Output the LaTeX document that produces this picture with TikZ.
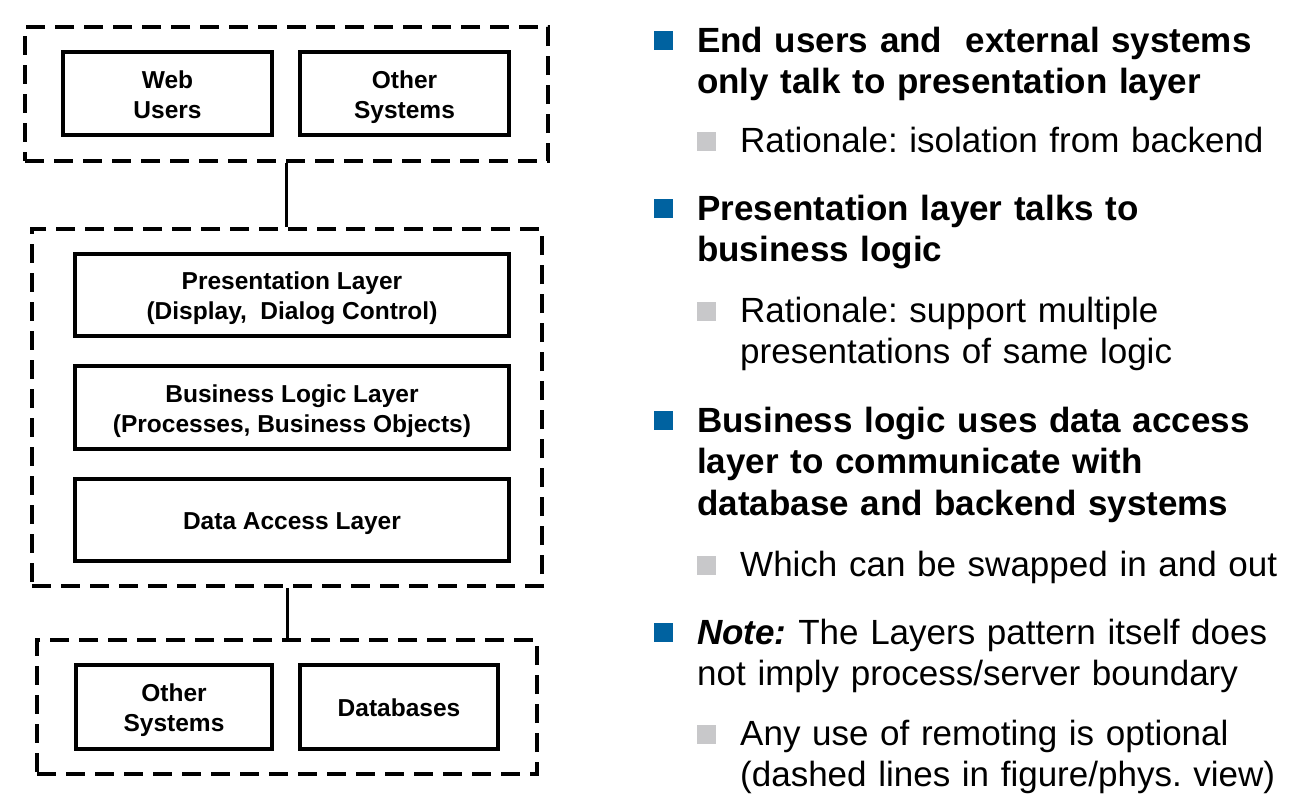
\documentclass[tikz,border=0pt]{standalone}
\usepackage{fontspec}
\setmainfont{Liberation Sans}
\frenchspacing
\usetikzlibrary{positioning}
\definecolor{bulletblue}{RGB}{0,98,160}
\definecolor{bulletgray}{RGB}{200,200,202}
\tikzset{
	group/.style={draw, line width=4pt, dash pattern=on 19pt off 10pt, inner sep=0pt},
	box/.style={draw, line width=4pt, inner sep=0pt, align=center, text height=18pt, text depth=0pt, font=\fontsize{24.5}{30}\selectfont\bfseries},
	twoline/.style={text height=49pt},
	link/.style={line width=3pt},
	head/.style={anchor=base west, inner sep=0pt, text width=640pt, align=left, font=\fontsize{35}{41.5}\selectfont\bfseries},
	sub/.style={anchor=base west, inner sep=0pt, text width=640pt, align=left, font=\fontsize{35}{41.5}\selectfont},
	bluesq/.style={fill=bulletblue, minimum size=19pt, inner sep=0pt},
	graysq/.style={fill=bulletgray, minimum size=19pt, inner sep=0pt},
}
\begin{document}
\begin{tikzpicture}[x=1pt, y=-1pt]
\useasboundingbox (0,0) rectangle (1292,798);
\node[group, minimum width=523pt, minimum height=134pt] (clients) at (286.5,94) {};
\node[box, twoline, minimum width=209pt, minimum height=83pt] (web) at (167.5,93.5) {Web\\Users};
\node[box, twoline, minimum width=209pt, minimum height=83pt] (othertop) at (404.5,93.5) {Other\\Systems};
\node[group, minimum width=510pt, minimum height=357pt] (app) at (287,407.5) {};
\node[box, twoline, minimum width=434pt, minimum height=82pt] (pres) at (292,295) {Presentation Layer\\(Display,~ Dialog Control)};
\node[box, twoline, minimum width=434pt, minimum height=83pt] (logic) at (292,407.5) {Business Logic Layer\\(Processes, Business Objects)};
\node[box, minimum width=434pt, minimum height=82pt] (dal) at (292,520) {Data Access Layer};
\node[group, minimum width=500pt, minimum height=134pt] (backend) at (287,707) {};
\node[box, twoline, minimum width=196pt, minimum height=84pt] (otherbot) at (174,707) {Other\\Systems};
\node[box, minimum width=198pt, minimum height=84pt] (db) at (399,707) {Databases};
\draw[link] (clients.south) -- (clients.south |- app.north);
\draw[link] (app.south) -- (app.south |- backend.north);

\node[head] (p1) at (697,52) {End users and~ external systems\\only talk to presentation layer};
\node[bluesq, left=24pt of p1.base west, anchor=south east, yshift=2pt] (m1) {};
\node[sub] (r1) at (740,152) {Rationale: isolation from backend};
\node[graysq, left=24pt of r1.base west, anchor=south east, yshift=1pt] (n1) {};
\node[head] (p2) at (697,220) {Presentation layer talks to\\business logic};
\node[bluesq, left=24pt of p2.base west, anchor=south east, yshift=2pt] (m2) {};
\node[sub] (r2) at (740,322) {Rationale: support multiple\\presentations of same logic};
\node[graysq, left=24pt of r2.base west, anchor=south east, yshift=1pt] (n2) {};
\node[head] (p3) at (697,432) {Business logic uses data access\\layer to communicate with\\database and backend systems};
\node[bluesq, left=24pt of p3.base west, anchor=south east, yshift=2pt] (m3) {};
\node[sub] (r3) at (740,576) {Which can be swapped in and out};
\node[graysq, left=24pt of r3.base west, anchor=south east, yshift=1pt] (n3) {};
\node[sub] (p4) at (697,644) {\textbf{\textit{Note:}} The Layers pattern itself does\\not imply process/server boundary};
\node[bluesq, left=24pt of p4.base west, anchor=south east, yshift=2pt] (m4) {};
\node[sub] (r4) at (740,745) {Any use of remoting is optional\\(dashed lines in figure/phys. view)};
\node[graysq, left=24pt of r4.base west, anchor=south east, yshift=1pt] (n4) {};
\end{tikzpicture}
\end{document}
